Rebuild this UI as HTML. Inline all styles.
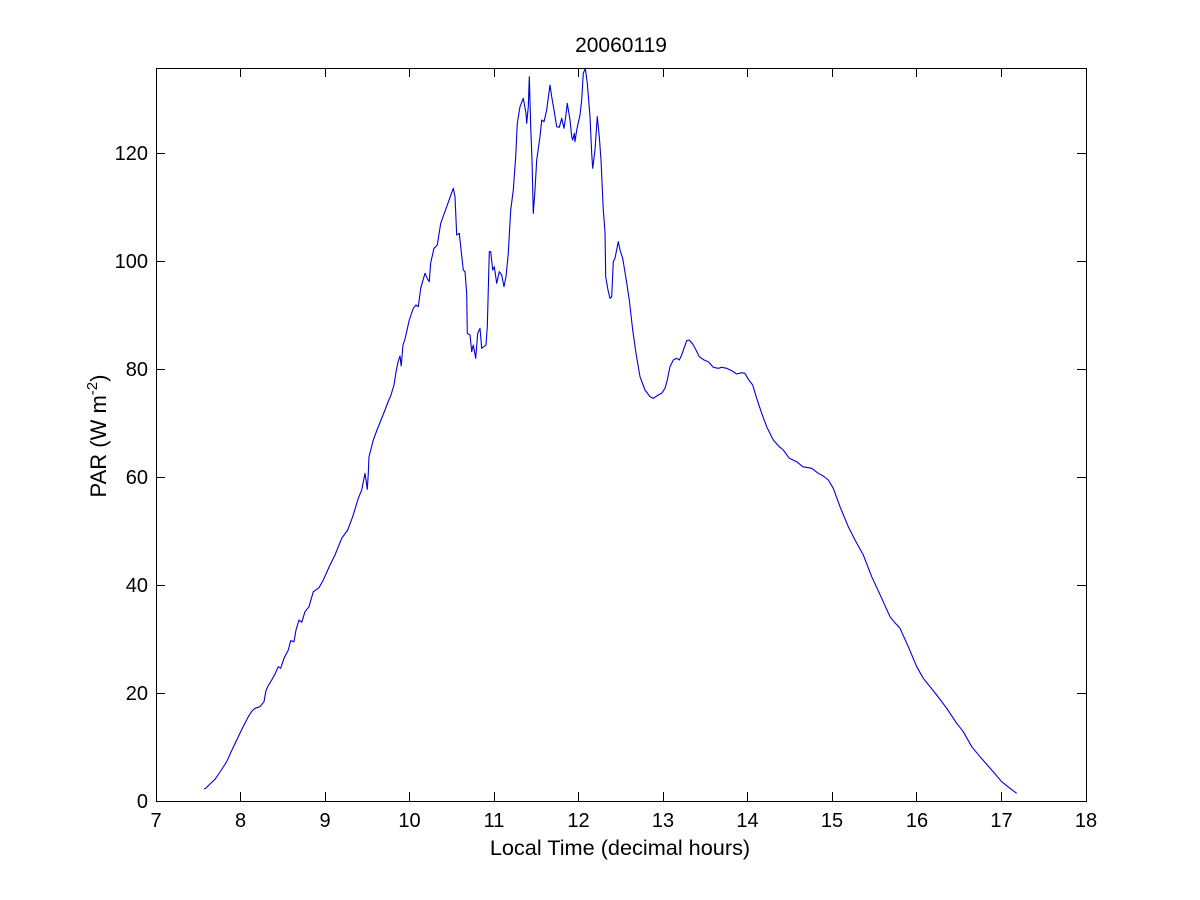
<!DOCTYPE html>
<html>
<head>
<meta charset="utf-8">
<style>
html,body{margin:0;padding:0;background:#fff;}
svg{display:block;}
text{font-family:"Liberation Sans",Arial,sans-serif;fill:#000;}
</style>
</head>
<body>
<svg width="1200" height="900" viewBox="0 0 1200 900" xmlns="http://www.w3.org/2000/svg">
<rect x="0" y="0" width="1200" height="900" fill="#fff"/>

<!-- data line -->
<polyline fill="none" stroke="#0000d8" stroke-width="1.1" stroke-linejoin="round" points="
204,789 205.7,788.3 210,784 215,779.3 220,772 226.7,761.7 231,752 236.7,740 242,729 248.3,716.7 252,711 255,708.3 260,706.7 264,701.7 265.7,691.7 268,686 271.7,680 275,674 278.3,666.7 280.7,668.3 284,658.3 288.3,650 290.7,640.7 294,641.7 296,630 299,620 301.7,622.3 305,611.7 309,606.7 313.3,591.7 319,587.7 323.3,580 330,565 335,555 341.7,538.3 347.7,530 352.7,516.7 358.3,498.3 361.7,490 365,473.3 366,480 367.3,489.3 368.3,473.3 369,456.7 373.3,440 377,430 381,420 385,410 388,402 391,395 394,385 396,372 398,362 400,356 401.2,366 403,345 405,339 409.3,320 413.3,308.3 416,305 418.3,306.7 420.7,288.3 425,273.3 427.7,279.3 429.3,281.7 430.7,262.7 434,248.3 437.3,245 440.7,223.3 446.7,206.7 453.3,188.3 455,196.7 456.7,235 459.3,233.3 460.7,246.7 463.3,270 465,271.7 466.7,293.3 467.3,333.3 470,335 471.7,351.7 473.3,345 475.7,358.3 477.7,333.3 480,328.3 481.7,348.3 486,345 487.3,326.7 489.3,251.7 490.7,251.7 492.7,270 494.3,266.7 496.7,283.3 499.3,271.7 501.7,275 504,286.7 506,276.7 508.3,253.3 510.7,210 513.3,190 515.7,156.7 517.3,123.3 520,106.7 523.3,98.3 526,113.3 526.7,123.3 528.3,106.7 529.3,76.7 530.7,126.7 532,160 533.3,213.3 535,190 536.7,160 540,136.7 541.7,120 544,121.7 546.7,110 549.3,90 550,85 551.7,96.7 554,110 556.7,126.7 559.3,127.3 561.7,118.3 564,128.3 565.7,116.7 567.3,103.3 570,120 571.7,136.7 572.7,140 574.3,133.3 575,141.7 576.7,130 580,115 581.7,100 583.3,73.3 585.3,68.3 587.3,83.3 590,116.7 591.7,153.3 592.7,168.3 595,150 597.3,116.7 599.3,136.7 601,160 603.3,210 605,232 605.7,276.7 608,290 610,298.3 611.7,296.7 613.3,261.7 615,258.3 618.3,241.7 620,250 622.7,258.3 626,278.3 629.3,300 632.7,330 636,353.3 640,376.7 645,390 650,396.7 653.3,398.3 658.3,395 661.7,393.3 665,388.3 667.3,380 670,366.7 673.3,360 676.7,358.3 679.3,360 681.7,355 684,348.3 686.7,340.7 689.3,340 692.7,344 696,350 699.3,356.7 704,360 708.3,361.7 713.3,367.3 718.3,368.3 721.7,367.3 726.7,368.3 731.7,370.7 736.7,374 741.7,372.7 745,373.3 748.3,379.3 752.7,385 756.7,398.3 761.7,413.3 766.7,426.7 773.3,440 779.3,446.7 783.3,450 789.3,458.3 796.7,461.7 802.7,466.7 811.7,468.3 818.3,473.3 823.3,476 828.3,480 833.3,488.3 840,506.7 848.3,526.7 855,540 863.3,555 871.7,576.7 881.7,598.3 890,616.7 894,621.7 900,628.3 908.3,646.7 916.7,666.7 923.3,678.3 936.7,695 946.7,708.3 956.7,723.3 963.3,731.7 971.7,746.7 980,756.7 991.7,770 1001.7,781.7 1010,788.3 1016.7,793.3"/>

<!-- axes box -->
<rect x="156.5" y="68.5" width="930" height="733" fill="none" stroke="#000" stroke-width="1"/>

<!-- x ticks -->
<g stroke="#000" stroke-width="1">
<path d="M240.5,801V792M240.5,68V77
M325.5,801V792M325.5,68V77
M409.5,801V792M409.5,68V77
M494.5,801V792M494.5,68V77
M578.5,801V792M578.5,68V77
M663.5,801V792M663.5,68V77
M747.5,801V792M747.5,68V77
M832.5,801V792M832.5,68V77
M916.5,801V792M916.5,68V77
M1001.5,801V792M1001.5,68V77"/>
<!-- y ticks -->
<path d="M156,693.5H165M1086,693.5H1077
M156,585.5H165M1086,585.5H1077
M156,477.5H165M1086,477.5H1077
M156,369.5H165M1086,369.5H1077
M156,261.5H165M1086,261.5H1077
M156,153.5H165M1086,153.5H1077"/>
</g>

<!-- x tick labels -->
<g font-size="20" text-anchor="middle">
<text x="156" y="827">7</text>
<text x="240.5" y="827">8</text>
<text x="325" y="827">9</text>
<text x="409.5" y="827">10</text>
<text x="494" y="827">11</text>
<text x="578.5" y="827">12</text>
<text x="663" y="827">13</text>
<text x="747.5" y="827">14</text>
<text x="832" y="827">15</text>
<text x="917" y="827">16</text>
<text x="1001.5" y="827">17</text>
<text x="1086" y="827">18</text>
</g>

<!-- y tick labels -->
<g font-size="20" text-anchor="end">
<text x="148" y="808">0</text>
<text x="148" y="700">20</text>
<text x="148" y="592">40</text>
<text x="148" y="484">60</text>
<text x="148" y="376">80</text>
<text x="148" y="268">100</text>
<text x="148" y="160">120</text>
</g>

<!-- title -->
<text x="621" y="52" font-size="21" text-anchor="middle">20060119</text>

<!-- x label -->
<text x="620" y="855" font-size="21.7" text-anchor="middle">Local Time (decimal hours)</text>

<!-- y label -->
<text transform="translate(106,436) rotate(-90)" font-size="22" text-anchor="middle">PAR (W m<tspan font-size="15" dy="-9">-2</tspan><tspan dy="9">)</tspan></text>

</svg>
</body>
</html>
